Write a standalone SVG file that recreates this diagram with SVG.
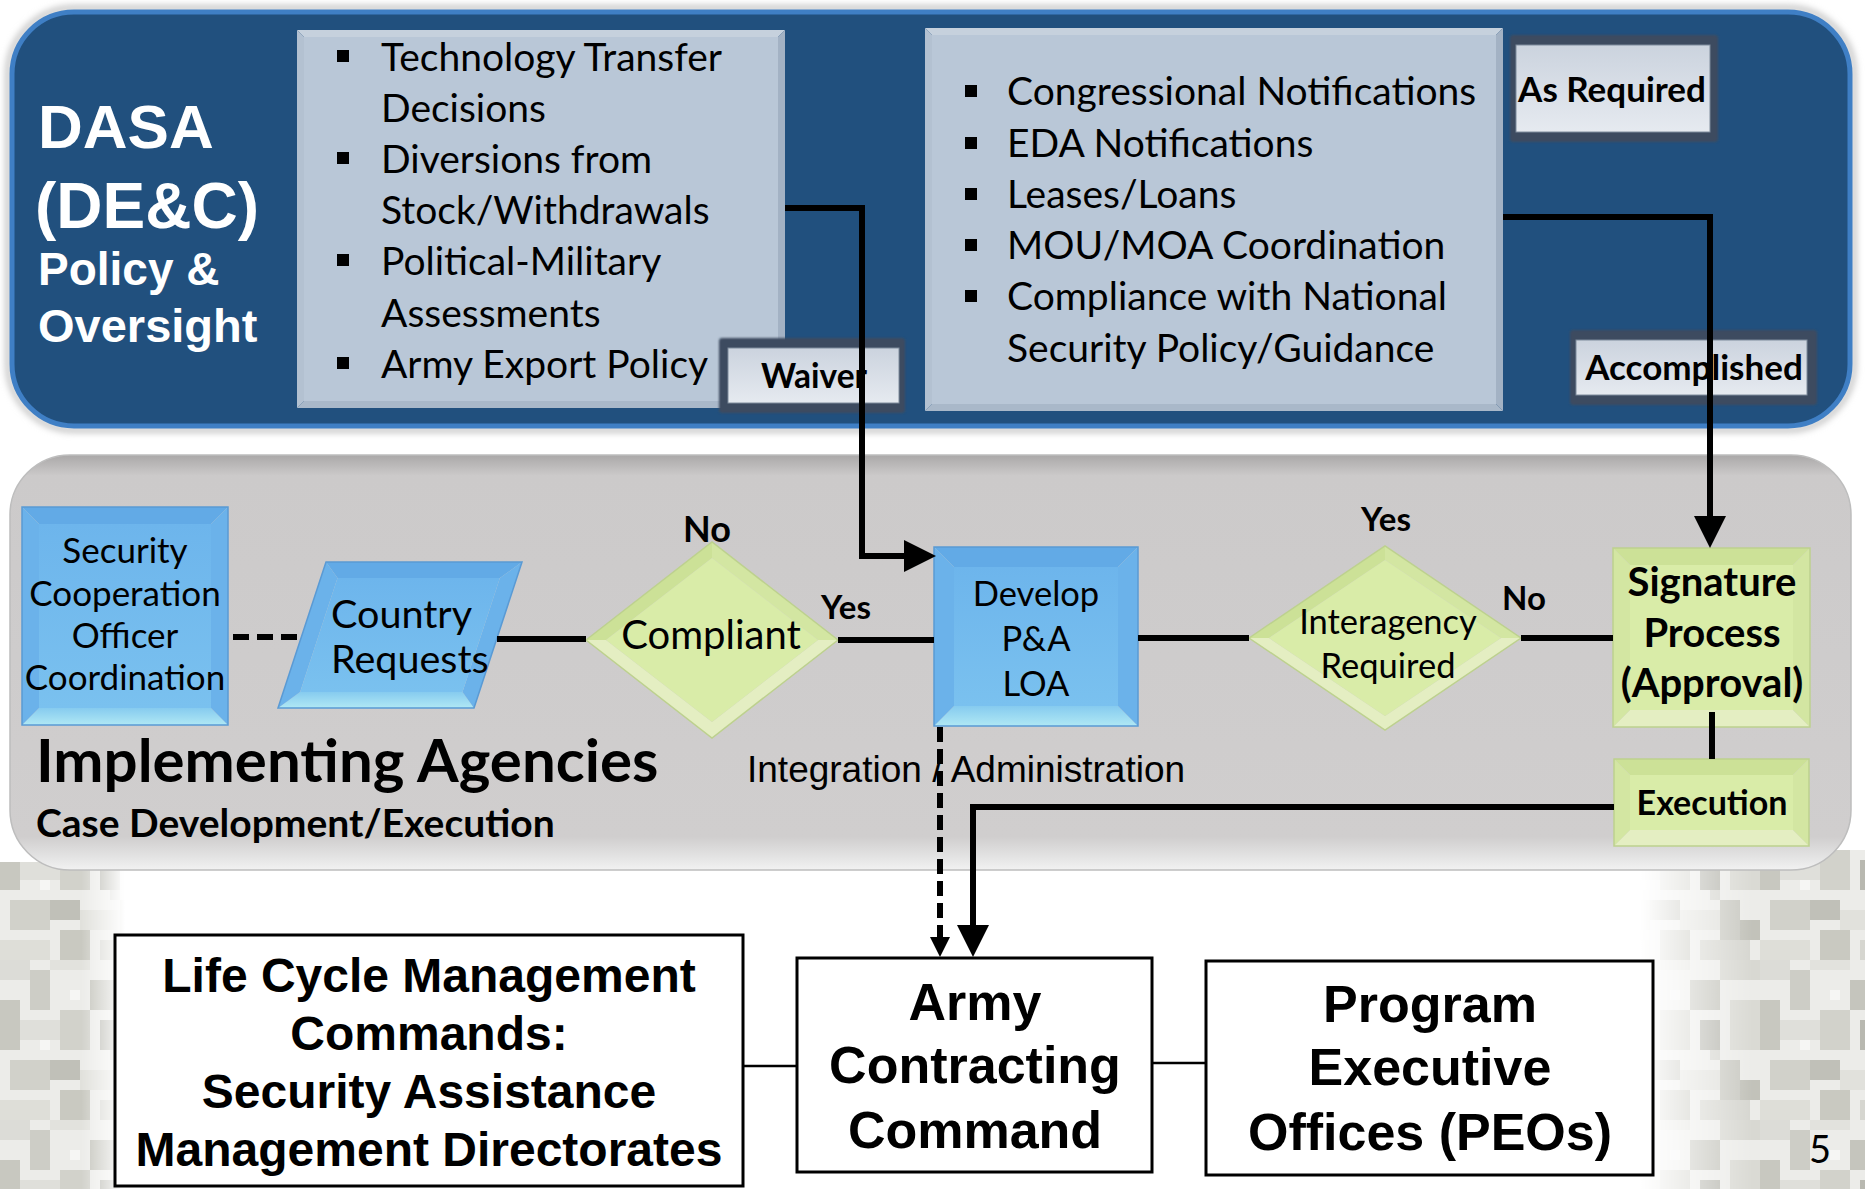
<svg xmlns="http://www.w3.org/2000/svg" width="1865" height="1189" viewBox="0 0 1865 1189">
<defs>
<style>
.t{font-family:Lato,"Liberation Sans",sans-serif;fill:#000}
.tb{font-family:Lato,"Liberation Sans",sans-serif;font-weight:700;fill:#000}
.ab{font-family:"Liberation Sans",Arial,sans-serif;font-weight:700;fill:#000}
.a{font-family:"Liberation Sans",Arial,sans-serif;fill:#000}
.w{fill:#fff}
.c{text-anchor:middle}
.conn{fill:none;stroke:#000;stroke-width:6}
.thin{fill:none;stroke:#000;stroke-width:2.5}
.box{fill:#fff;stroke:#000;stroke-width:3}
.bT{fill:#62AAE6}.bS{fill:#6BB2EA}.bB{fill:url(#bluBot)}.bC{fill:url(#bluCtr)}.bO{fill:none;stroke:#5A9AD4;stroke-width:1.5}
.gT{fill:#CCE197}.gS{fill:#D3E6A2}.gB{fill:#E4EEC2}.gC{fill:#D9ECA8}.gO{fill:none;stroke:#BDD18E;stroke-width:1.5}
.lT{fill:#C6D1DD}.lL{fill:#B3C1D1}.lR{fill:#A3B2C4}.lB{fill:#A9B8C9}.lC{fill:#B9C7D7}
.frame{fill:#3C4C60;filter:url(#soft)}
.face{fill:url(#tabFace);stroke:#7F8C9C;stroke-width:1}
</style>
<linearGradient id="bluBot" x1="0" y1="0" x2="0" y2="1"><stop offset="0" stop-color="#86CBEF"/><stop offset="1" stop-color="#B0E8F4"/></linearGradient>
<linearGradient id="bluCtr" x1="0" y1="0" x2="0" y2="1"><stop offset="0" stop-color="#6DB5EC"/><stop offset="1" stop-color="#7AC1EF"/></linearGradient>
<linearGradient id="tabFace" x1="0" y1="0" x2="0" y2="1"><stop offset="0" stop-color="#CBD3DE"/><stop offset="1" stop-color="#E6EAF0"/></linearGradient>
<linearGradient id="grayPanel" x1="0" y1="0" x2="0" y2="1"><stop offset="0" stop-color="#AAA8A8"/><stop offset="0.05" stop-color="#CCCACA"/><stop offset="0.92" stop-color="#D0CECE"/><stop offset="0.97" stop-color="#E4E4E4"/><stop offset="1" stop-color="#F2F2F2"/></linearGradient>
<linearGradient id="fadeL" x1="0" y1="0" x2="1" y2="0"><stop offset="0" stop-color="#fff"/><stop offset="0.65" stop-color="#fff"/><stop offset="1" stop-color="#000"/></linearGradient>
<linearGradient id="fadeR" x1="0" y1="0" x2="1" y2="0"><stop offset="0" stop-color="#000"/><stop offset="0.5" stop-color="#fff"/><stop offset="1" stop-color="#fff"/></linearGradient>
<mask id="mL" maskContentUnits="userSpaceOnUse"><rect x="0" y="862" width="125" height="327" fill="url(#fadeL)"/></mask>
<mask id="mR" maskContentUnits="userSpaceOnUse"><rect x="1640" y="850" width="225" height="339" fill="url(#fadeR)"/></mask>
<pattern id="camo" patternUnits="userSpaceOnUse" width="160" height="160">
<rect width="160" height="160" fill="#ECECE9"/>
<rect x="0" y="0" width="30" height="20" fill="#DCDCD7"/>
<rect x="30" y="10" width="20" height="40" fill="#CDCDC6"/>
<rect x="50" y="0" width="40" height="10" fill="#E2E2DD"/>
<rect x="90" y="20" width="30" height="30" fill="#C5C5BD"/>
<rect x="120" y="0" width="40" height="20" fill="#D8D8D2"/>
<rect x="0" y="40" width="20" height="50" fill="#C8C8C0"/>
<rect x="20" y="60" width="40" height="20" fill="#DFDFDA"/>
<rect x="60" y="50" width="30" height="40" fill="#D2D2CB"/>
<rect x="100" y="60" width="20" height="30" fill="#B8B8B0"/>
<rect x="130" y="40" width="30" height="50" fill="#DADAD4"/>
<rect x="10" y="100" width="40" height="30" fill="#D1D1CA"/>
<rect x="50" y="100" width="30" height="20" fill="#C0C0B8"/>
<rect x="80" y="110" width="40" height="20" fill="#E1E1DC"/>
<rect x="120" y="100" width="20" height="40" fill="#CACAC3"/>
<rect x="0" y="140" width="50" height="20" fill="#DEDED8"/>
<rect x="60" y="130" width="30" height="30" fill="#C9C9C1"/>
<rect x="100" y="140" width="50" height="20" fill="#D6D6D0"/>
<rect x="140" y="120" width="20" height="20" fill="#C2C2BA"/>
<rect x="70" y="30" width="10" height="10" fill="#F6F6F4"/>
<rect x="40" y="80" width="10" height="10" fill="#F6F6F4"/>
<rect x="110" y="90" width="10" height="10" fill="#D6D6D0"/>
</pattern>
<filter id="soft" x="-10%" y="-20%" width="120%" height="140%"><feGaussianBlur stdDeviation="1.2"/></filter>
<filter id="halo" x="-5%" y="-10%" width="110%" height="120%"><feGaussianBlur stdDeviation="3"/></filter>
<marker id="ah" markerUnits="userSpaceOnUse" markerWidth="32" markerHeight="32" refX="0" refY="16" orient="auto"><path d="M0,0 L32,16 L0,32 Z" fill="#000"/></marker>
<marker id="ahs" markerUnits="userSpaceOnUse" markerWidth="20" markerHeight="20" refX="0" refY="10" orient="auto"><path d="M0,0 L20,10 L0,20 Z" fill="#000"/></marker>
</defs>

<rect width="1865" height="1189" fill="#fff"/>

<!-- digital camouflage in the lower corners -->
<g id="camouflage">
<rect x="0" y="862" width="125" height="327" fill="url(#camo)" mask="url(#mL)"/>
<rect x="1640" y="850" width="225" height="339" fill="url(#camo)" mask="url(#mR)"/>
</g>

<!-- DASA policy and oversight band -->
<g id="dasa-panel">
<rect x="8" y="8" width="1846" height="422" rx="66" fill="none" stroke="#C8C8C8" stroke-width="6" filter="url(#halo)"/>
<rect x="12" y="12" width="1838" height="414" rx="62" fill="#21507E" stroke="#3F7FC5" stroke-width="5"/>
<text class="ab w" x="38" y="148" font-size="62">DASA</text>
<text class="ab w" x="35" y="228" font-size="64">(DE&amp;C)</text>
<text class="ab w" x="38" y="285" font-size="46">Policy &amp;</text>
<text class="ab w" x="38" y="342" font-size="47">Oversight</text>
</g>

<g id="dasa-list-left">
<polygon class="lT" points="297,30 785,30 778,37 304,37"/>
<polygon class="lB" points="297,408 785,408 778,401 304,401"/>
<polygon class="lL" points="297,30 304,37 304,401 297,408"/>
<polygon class="lR" points="785,30 778,37 778,401 785,408"/>
<rect class="lC" x="304" y="37" width="474" height="364"/>
<g class="t" font-size="39">
<rect x="337" y="50" width="12" height="12"/>
<rect x="337" y="152" width="12" height="12"/>
<rect x="337" y="254" width="12" height="12"/>
<rect x="337" y="357" width="12" height="12"/>
<text x="381" y="71">Technology Transfer</text>
<text x="381" y="122">Decisions</text>
<text x="381" y="173">Diversions from</text>
<text x="381" y="224">Stock/Withdrawals</text>
<text x="381" y="275">Political-Military</text>
<text x="381" y="327">Assessments</text>
<text x="381" y="378">Army Export Policy</text>
</g>
</g>

<g id="dasa-list-right">
<polygon class="lT" points="925,28 1503,28 1496,35 932,35"/>
<polygon class="lB" points="925,411 1503,411 1496,404 932,404"/>
<polygon class="lL" points="925,28 932,35 932,404 925,411"/>
<polygon class="lR" points="1503,28 1496,35 1496,404 1503,411"/>
<rect class="lC" x="932" y="35" width="564" height="369"/>
<g class="t" font-size="39">
<rect x="965" y="85" width="12" height="12"/>
<rect x="965" y="137" width="12" height="12"/>
<rect x="965" y="188" width="12" height="12"/>
<rect x="965" y="239" width="12" height="12"/>
<rect x="965" y="290" width="12" height="12"/>
<text x="1007" y="105">Congressional Notifications</text>
<text x="1007" y="157">EDA Notifications</text>
<text x="1007" y="208">Leases/Loans</text>
<text x="1007" y="259">MOU/MOA Coordination</text>
<text x="1007" y="310">Compliance with National</text>
<text x="1007" y="362">Security Policy/Guidance</text>
</g>
</g>

<g id="tab-waiver">
<rect class="frame" x="719" y="338" width="186" height="75" rx="3"/>
<rect class="face" x="728" y="348" width="171" height="55"/>
<text class="tb c" x="814" y="388" font-size="33.5">Waiver</text>
</g>
<g id="tab-as-required">
<rect class="frame" x="1510" y="35" width="208" height="107" rx="3"/>
<rect class="face" x="1516" y="45" width="194" height="87"/>
<text class="tb c" x="1612" y="102" font-size="35">As Required</text>
</g>
<g id="tab-accomplished">
<rect class="frame" x="1570" y="330" width="247" height="75" rx="3"/>
<rect class="face" x="1576" y="340" width="231" height="55"/>
<text class="tb c" x="1694" y="380" font-size="35">Accomplished</text>
</g>

<!-- implementing agencies band -->
<g id="agency-panel">
<rect x="10" y="455" width="1841" height="415" rx="60" fill="url(#grayPanel)" stroke="#BDBDBD" stroke-width="1.5"/>
<text class="tb" x="36" y="782" font-size="60">Implementing Agencies</text>
<text class="tb" x="36" y="837" font-size="39">Case Development/Execution</text>
<text class="a" x="747" y="782" font-size="37">Integration / Administration</text>
</g>

<g id="sco">
<polygon class="bT" points="22,507 228,507 211,524 39,524"/>
<polygon class="bB" points="22,725 228,725 211,708 39,708"/>
<polygon class="bS" points="22,507 39,524 39,708 22,725"/>
<polygon class="bS" points="228,507 211,524 211,708 228,725"/>
<rect class="bC" x="39" y="524" width="172" height="184"/>
<rect class="bO" x="22" y="507" width="206" height="218"/>
<g class="t c" font-size="35">
<text x="125" y="563">Security</text>
<text x="125" y="606">Cooperation</text>
<text x="125" y="648">Officer</text>
<text x="125" y="690">Coordination</text>
</g>
</g>

<g id="country-requests">
<polygon class="bT" points="326,562 522,562 499.9,578 337.5,578"/>
<polygon class="bB" points="278,708 474,708 462.5,692 300.1,692"/>
<polygon class="bS" points="326,562 337.5,578 300.1,692 278,708"/>
<polygon class="bS" points="522,562 474,708 462.5,692 499.9,578"/>
<polygon class="bC" points="337.5,578 499.9,578 462.5,692 300.1,692"/>
<polygon class="bO" points="326,562 522,562 474,708 278,708"/>
<g class="t" font-size="39.5">
<text x="331" y="628">Country</text>
<text x="331" y="673">Requests</text>
</g>
</g>

<g id="compliant">
<polygon class="gT" points="586,640 712,542 712,558 606,640"/>
<polygon class="gS" points="712,542 838,640 818,640 712,558"/>
<polygon class="gB" points="838,640 712,738 712,722 818,640"/>
<polygon class="gB" points="712,738 586,640 606,640 712,722"/>
<polygon class="gC" points="606,640 712,558 818,640 712,722"/>
<polygon class="gO" points="586,640 712,542 838,640 712,738"/>
<text class="t c" x="711" y="649" font-size="40">Compliant</text>
</g>

<g id="develop-loa">
<polygon class="bT" points="934,547 1138,547 1118,567 954,567"/>
<polygon class="bB" points="934,726 1138,726 1118,706 954,706"/>
<polygon class="bS" points="934,547 954,567 954,706 934,726"/>
<polygon class="bS" points="1138,547 1118,567 1118,706 1138,726"/>
<rect class="bC" x="954" y="567" width="164" height="139"/>
<rect class="bO" x="934" y="547" width="204" height="179"/>
<g class="t c" font-size="34.5">
<text x="1036" y="606">Develop</text>
<text x="1036" y="651">P&amp;A</text>
<text x="1036" y="696">LOA</text>
</g>
</g>

<g id="interagency">
<polygon class="gT" points="1249,638 1385,546 1385,560 1269,638"/>
<polygon class="gS" points="1385,546 1521,638 1501,638 1385,560"/>
<polygon class="gB" points="1521,638 1385,730 1385,716 1501,638"/>
<polygon class="gB" points="1385,730 1249,638 1269,638 1385,716"/>
<polygon class="gC" points="1269,638 1385,560 1501,638 1385,716"/>
<polygon class="gO" points="1249,638 1385,546 1521,638 1385,730"/>
<g class="t c" font-size="34.5">
<text x="1388" y="634">Interagency</text>
<text x="1388" y="678">Required</text>
</g>
</g>

<g id="signature">
<polygon class="gT" points="1613,548 1810,548 1793,565 1630,565"/>
<polygon class="gB" points="1613,727 1810,727 1793,710 1630,710"/>
<polygon class="gS" points="1613,548 1630,565 1630,710 1613,727"/>
<polygon class="gS" points="1810,548 1793,565 1793,710 1810,727"/>
<rect class="gC" x="1630" y="565" width="163" height="145"/>
<rect class="gO" x="1613" y="548" width="197" height="179"/>
<g class="tb c" font-size="40">
<text x="1712" y="596">Signature</text>
<text x="1712" y="647">Process</text>
<text x="1712" y="697">(Approval)</text>
</g>
</g>

<g id="execution">
<polygon class="gT" points="1614,759 1809,759 1793,775 1630,775"/>
<polygon class="gB" points="1614,846 1809,846 1793,830 1630,830"/>
<polygon class="gS" points="1614,759 1630,775 1630,830 1614,846"/>
<polygon class="gS" points="1809,759 1793,775 1793,830 1809,846"/>
<rect class="gC" x="1630" y="775" width="163" height="55"/>
<rect class="gO" x="1614" y="759" width="195" height="87"/>
<text class="tb c" x="1712" y="815" font-size="34">Execution</text>
</g>

<!-- commands below the bands -->
<g id="lcmc">
<rect class="box" x="115" y="935" width="628" height="251"/>
<g class="ab c" font-size="48">
<text x="429" y="992">Life Cycle Management</text>
<text x="429" y="1050">Commands:</text>
<text x="429" y="1108">Security Assistance</text>
<text x="429" y="1166">Management Directorates</text>
</g>
</g>

<g id="acc">
<rect class="box" x="797" y="958" width="355" height="214"/>
<g class="ab c" font-size="52">
<text x="975" y="1020">Army</text>
<text x="975" y="1083">Contracting</text>
<text x="975" y="1148">Command</text>
</g>
</g>

<g id="peo">
<rect class="box" x="1206" y="961" width="447" height="214"/>
<g class="ab c" font-size="52">
<text x="1430" y="1022">Program</text>
<text x="1430" y="1085">Executive</text>
<text x="1430" y="1150">Offices (PEOs)</text>
</g>
</g>

<text id="page-number" class="t c" x="1820" y="1163" font-size="38">5</text>

<!-- connectors -->
<g id="connectors">
<path class="conn" d="M785,208 H862 V556 H904" marker-end="url(#ah)"/>
<path class="conn" d="M1503,217 H1710 V516" marker-end="url(#ah)"/>
<path class="conn" d="M233,637 H299" stroke-dasharray="16 8"/>
<path class="conn" d="M497,639 H586"/>
<path class="conn" d="M838,640 H934"/>
<path class="conn" d="M1138,638 H1249"/>
<path class="conn" d="M1521,638 H1613"/>
<path class="conn" d="M1712,712 V759"/>
<path class="conn" d="M1614,807 H973 V925" marker-end="url(#ah)"/>
<path class="conn" d="M940,727 V937" stroke-dasharray="15 7" marker-end="url(#ahs)"/>
<path class="thin" d="M743,1066 H797"/>
<path class="thin" d="M1152,1063 H1206"/>
<g class="tb c">
<text x="707" y="542" font-size="36">No</text>
<text x="846" y="619" font-size="33">Yes</text>
<text x="1386" y="531" font-size="33">Yes</text>
<text x="1524" y="610" font-size="33">No</text>
</g>
</g>
</svg>
